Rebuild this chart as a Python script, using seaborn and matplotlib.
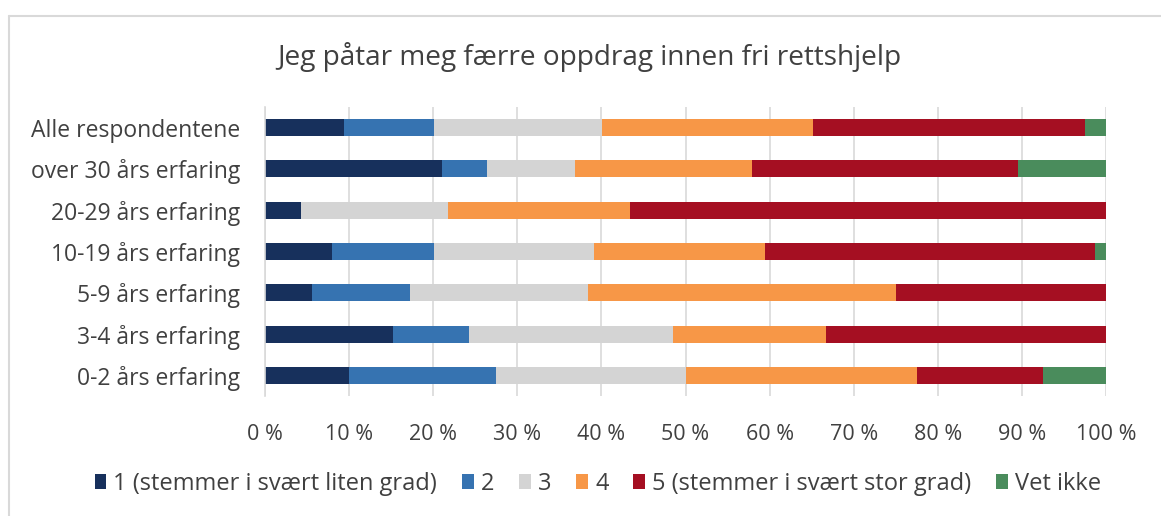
import pandas as pd
import seaborn as sns
import matplotlib.pyplot as plt
from matplotlib.patches import Patch
from matplotlib.lines import Line2D
from matplotlib.ticker import PercentFormatter

# groups, top to bottom
groups = ["Alle respondentene", "over 30 års erfaring", "20-29 års erfaring",
          "10-19 års erfaring", "5-9 års erfaring", "3-4 års erfaring",
          "0-2 års erfaring"]

answers = ["1 (stemmer i svært liten grad)", "2", "3", "4",
           "5 (stemmer i svært stor grad)", "Vet ikke"]

# share in percent per answer, same order as groups
s1 = [9.4, 21.1, 4.3, 8.0, 5.6, 15.2, 10.0]
s2 = [10.7, 5.3, 0.0, 12.1, 11.6, 9.1, 17.5]
s3 = [20.0, 10.5, 17.4, 19.0, 21.2, 24.2, 22.5]
s4 = [25.1, 21.0, 21.7, 20.3, 36.6, 18.2, 27.5]
s5 = [32.3, 31.6, 56.6, 39.3, 25.0, 33.3, 15.0]
vet = [2.5, 10.5, 0.0, 1.3, 0.0, 0.0, 7.5]

colors = ["#17305c", "#3673b1", "#d4d4d4", "#f79747", "#a50f22", "#4a8c5c"]

df = pd.DataFrame({"group": groups, answers[0]: s1, answers[1]: s2,
                   answers[2]: s3, answers[3]: s4, answers[4]: s5,
                   answers[5]: vet})
cum = df[answers].cumsum(axis=1)
cum["group"] = df["group"]

sns.set_style("white")
plt.rcParams["font.family"] = ["Open Sans", "DejaVu Sans"]

fig = plt.figure(figsize=(11.61, 5.16), dpi=100)
ax = fig.add_axes([0.2283, 0.2326, 0.7243, 0.56])

# draw cumulative bars from the right end backwards so they stack
for ans, col in reversed(list(zip(answers, colors))):
    sns.barplot(data=cum, x=ans, y="group", color=col, width=0.41,
                saturation=1, orient="h", ax=ax, linewidth=0)

ax.set_xlim(0, 100)
ax.set_xticks(range(0, 101, 10))
ax.xaxis.set_major_formatter(PercentFormatter(decimals=0, symbol=" %"))
ax.set_xlabel("")
ax.set_ylabel("")
ax.grid(axis="x", color="#d9d9d9", linewidth=1.2)
ax.set_axisbelow(True)
for s in ["top", "right", "bottom"]:
    ax.spines[s].set_visible(False)
ax.spines["left"].set_color("#d9d9d9")
ax.spines["left"].set_linewidth(1.2)
ax.tick_params(axis="y", length=0, labelsize=16.5, colors="#404040", pad=18)
ax.tick_params(axis="x", length=0, labelsize=15.5, colors="#404040", pad=20)

fig.text(0.508, 0.89, "Jeg påtar meg færre oppdrag innen fri rettshjelp",
         ha="center", va="center", fontsize=20.2, color="#404040")

handles = [Patch(facecolor=c, edgecolor="none") for c in colors]
fig.legend(handles, answers, loc="center", bbox_to_anchor=(0.515, 0.062),
           ncol=6, frameon=False, fontsize=17, handlelength=0.5,
           handleheight=0.6, handletextpad=0.3, columnspacing=1.05,
           labelcolor="#404040")

# outer chart frame
fig.add_artist(Line2D([0.0078, 1.0], [0.969, 0.969], color="#d9d9d9", lw=1.5))
fig.add_artist(Line2D([0.0078, 0.0078], [0.0, 0.969], color="#d9d9d9", lw=1.5))

fig.savefig("out.png", dpi=100)
